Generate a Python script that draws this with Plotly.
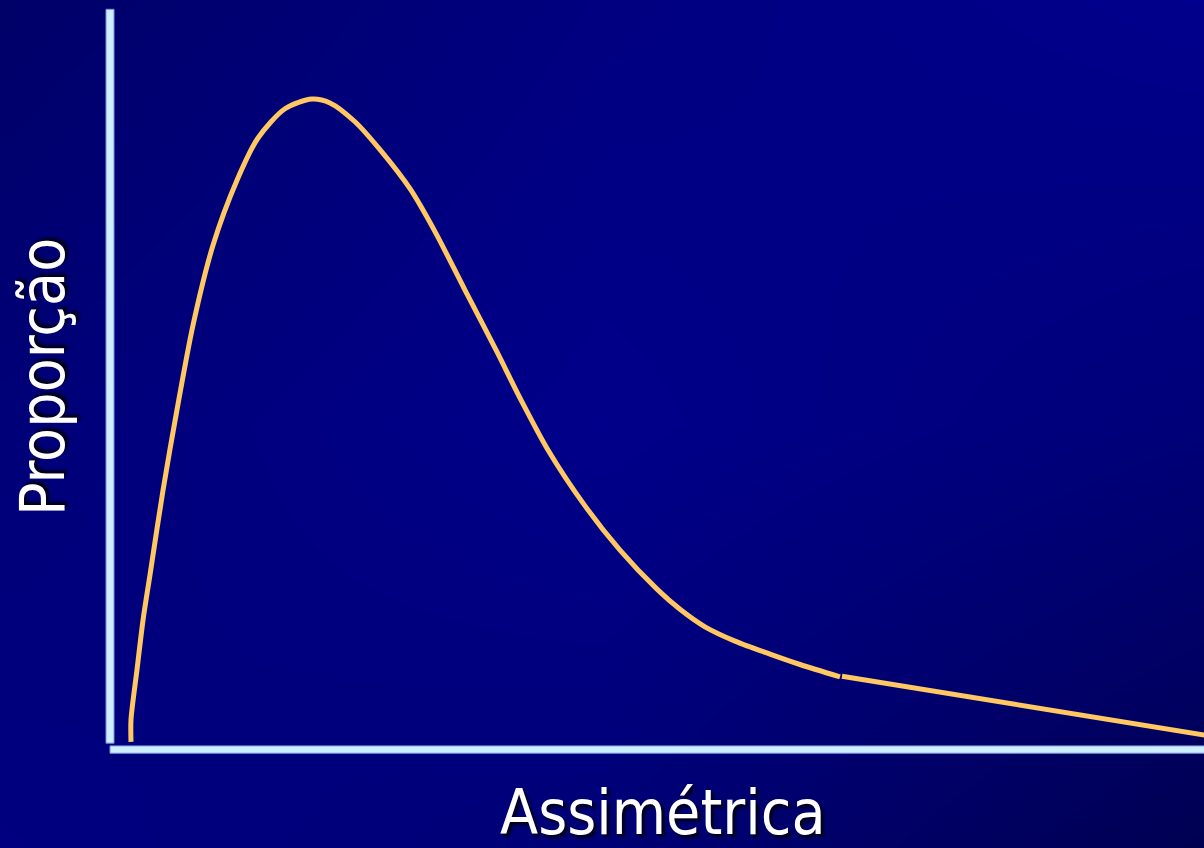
import plotly.graph_objects as go

# Skewed distribution curve (x: skewness scale, y: proportion relative to peak)
curve_x = [2.1, 2.1, 2.7, 3.3, 4.0, 5.3, 6.7, 8.3, 10.3, 12.7, 14.8, 17.5, 20.2,
           22.0, 24.5, 27.0, 30.0, 32.5, 35.5, 38.7, 41.0, 43.8, 47.5, 51.0,
           54.7, 57.0, 59.5, 62.5, 66.0, 69.0, 73.0]
curve_y = [0.011, 0.045, 0.122, 0.198, 0.268, 0.398, 0.522, 0.652, 0.775, 0.875,
           0.940, 0.985, 1.000, 0.994, 0.965, 0.922, 0.862, 0.796, 0.706, 0.611,
           0.540, 0.460, 0.374, 0.306, 0.246, 0.215, 0.188, 0.166, 0.146, 0.130,
           0.111]

# Long right tail
tail_x = [73.2, 110.0]
tail_y = [0.112, 0.020]

# Axis labels
x_label = "Assimétrica"
y_label = "Proporção"

# Background gradient levels (blue channel), rows bottom -> top
bg_levels = [
    [128, 118, 82],
    [120, 138, 120],
    [104, 128, 140],
]

X_RANGE = [-11.0, 109.4]
Y_RANGE = [-0.1523, 1.1523]

fig = go.Figure()

fig.add_trace(go.Heatmap(
    z=bg_levels,
    x=[X_RANGE[0], (X_RANGE[0] + X_RANGE[1]) / 2, X_RANGE[1]],
    y=[Y_RANGE[0], (Y_RANGE[0] + Y_RANGE[1]) / 2, Y_RANGE[1]],
    zsmooth="best",
    zmin=0, zmax=255,
    colorscale=[[0, "rgb(0,0,0)"], [1, "rgb(0,0,255)"]],
    showscale=False,
    hoverinfo="skip",
))

line_style = dict(color="#FFC862", width=5)
fig.add_trace(go.Scatter(x=curve_x, y=curve_y, mode="lines",
                         line=dict(**line_style, shape="spline", smoothing=0.8),
                         hoverinfo="skip"))
fig.add_trace(go.Scatter(x=tail_x, y=tail_y, mode="lines", line=line_style,
                         hoverinfo="skip"))

axis_fill = "#CCEEFF"
axis_edge = "#7C8FD8"
shapes = [
    # vertical axis
    dict(type="rect", xref="x", yref="y", x0=-0.4, x1=0.4, y0=0.009, y1=1.138,
         fillcolor=axis_fill, line=dict(color=axis_edge, width=1), layer="above"),
    # horizontal axis
    dict(type="rect", xref="x", yref="y", x0=0.0, x1=112, y0=-0.0065, y1=0.0048,
         fillcolor=axis_fill, line=dict(color=axis_edge, width=1), layer="above"),
]

label_font = dict(family="DejaVu Sans Condensed, DejaVu Sans, sans-serif",
                  size=62, color="white", shadow="3px 3px 3px #000018")

fig.update_layout(
    width=1204, height=848,
    margin=dict(l=0, r=0, t=0, b=0),
    paper_bgcolor="#000080",
    plot_bgcolor="#000080",
    showlegend=False,
    shapes=shapes,
    xaxis=dict(range=X_RANGE, visible=False, fixedrange=True),
    yaxis=dict(range=Y_RANGE, visible=False, fixedrange=True),
    annotations=[
        dict(text=x_label, xref="paper", yref="paper", x=663 / 1204, y=1 - 812 / 848,
             xanchor="center", yanchor="middle", showarrow=False, font=label_font),
        dict(text=y_label, xref="paper", yref="paper", x=42 / 1204, y=1 - 377 / 848,
             xanchor="center", yanchor="middle", textangle=-90, showarrow=False,
             font=label_font),
    ],
)

fig.write_html("out.html", config={"displayModeBar": False})
